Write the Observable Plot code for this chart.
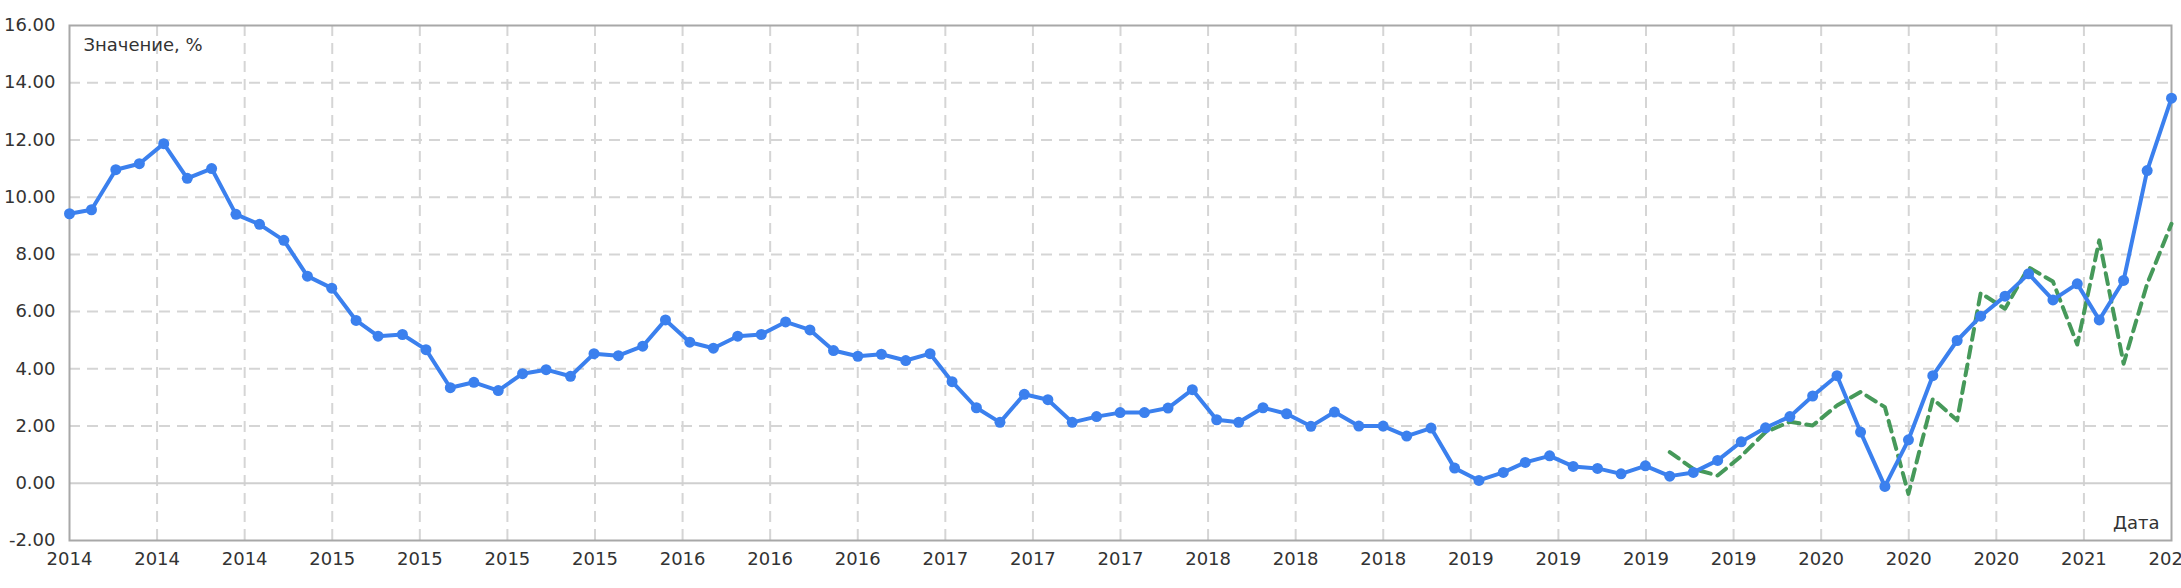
<!DOCTYPE html>
<html><head><meta charset="utf-8">
<script src="https://cdn.jsdelivr.net/npm/d3@7"></script>
<script src="https://cdn.jsdelivr.net/npm/@observablehq/plot@0.6"></script>
<style>
html,body{margin:0;padding:0;background:#fff;overflow:hidden;}
#chart svg{overflow:hidden;display:block;}
</style></head><body><div id="chart"></div>
<script>
// Monthly observations
const months = [
  "2014-02","2014-03","2014-04","2014-05","2014-06","2014-07","2014-08","2014-09","2014-10","2014-11","2014-12",
  "2015-01","2015-02","2015-03","2015-04","2015-05","2015-06","2015-07","2015-08","2015-09","2015-10","2015-11","2015-12",
  "2016-01","2016-02","2016-03","2016-04","2016-05","2016-06","2016-07","2016-08","2016-09","2016-10","2016-11","2016-12",
  "2017-01","2017-02","2017-03","2017-04","2017-05","2017-06","2017-07","2017-08","2017-09","2017-10","2017-11","2017-12",
  "2018-01","2018-02","2018-03","2018-04","2018-05","2018-06","2018-07","2018-08","2018-09","2018-10","2018-11","2018-12",
  "2019-01","2019-02","2019-03","2019-04","2019-05","2019-06","2019-07","2019-08","2019-09","2019-10","2019-11","2019-12",
  "2020-01","2020-02","2020-03","2020-04","2020-05","2020-06","2020-07","2020-08","2020-09","2020-10","2020-11","2020-12",
  "2021-01","2021-02","2021-03","2021-04","2021-05","2021-06"
];
const values = [
  9.42,9.56,10.96,11.17,11.87,10.66,11.00,9.40,9.05,8.49,7.24,
  6.82,5.69,5.14,5.20,4.67,3.34,3.53,3.24,3.83,3.97,3.74,4.53,
  4.46,4.79,5.71,4.93,4.72,5.14,5.20,5.64,5.36,4.64,4.44,4.51,
  4.29,4.53,3.55,2.64,2.13,3.11,2.92,2.13,2.33,2.47,2.47,2.63,
  3.27,2.22,2.13,2.64,2.43,1.99,2.49,2.00,2.00,1.65,1.93,0.53,
  0.10,0.38,0.73,0.96,0.59,0.52,0.33,0.61,0.25,0.38,0.80,1.45,
  1.94,2.33,3.05,3.76,1.79,-0.11,1.52,3.76,4.99,5.84,6.54,7.32,
  6.41,6.97,5.71,7.09,10.93,13.46
];
// Second (dashed) series, starting at forecastStart
const forecastStart = "2019-09";
const forecastValues = [
  1.09,0.50,0.27,0.95,1.79,2.15,2.02,2.72,3.19,2.66,-0.37,2.95,2.20,
  6.65,6.10,7.55,7.05,4.85,8.49,4.18,6.97,9.07
];
const xTickLabels = [
  "2014","2014","2014","2015","2015","2015","2015","2016","2016","2016",
  "2017","2017","2017","2018","2018","2018","2019","2019","2019","2019",
  "2020","2020","2020","2021","2021"
];
const yTicks = [-2,0,2,4,6,8,10,12,14,16];
const yGrid = [2,4,6,8,10,12,14];
const yLabel = "Значение, %";
const xLabel = "Дата";

const parse = d3.utcParse("%Y-%m");
const main = months.map((m,i) => ({date: parse(m), value: values[i]}));
const fStart = months.indexOf(forecastStart);
const forecast = forecastValues.map((v,i) => ({date: parse(months[fStart+i]), value: v}));

const t0 = main[0].date, t1 = main[main.length-1].date;
const n = xTickLabels.length - 1;
const xTicks = xTickLabels.map((_,k) => new Date(+t0 + k*(t1 - t0)/n));
const labelMap = new Map(xTicks.map((d,k) => [+d, xTickLabels[k]]));

const gridColor = "#d5d5d5";
const chart = Plot.plot({
  width: 2181, height: 588,
  marginLeft: 69, marginRight: 10, marginTop: 25, marginBottom: 48,
  x: {type: "utc", domain: [t0, t1]},
  y: {domain: [-2, 16]},
  style: {fontFamily: "'DejaVu Sans', Verdana, sans-serif", fontSize: "18px", color: "#333", background: "#fff"},
  marks: [
    Plot.gridX(xTicks.slice(1, -1), {stroke: gridColor, strokeOpacity: 1, strokeWidth: 2, strokeDasharray: "11,7"}),
    Plot.gridY(yGrid, {stroke: gridColor, strokeOpacity: 1, strokeWidth: 2, strokeDasharray: "11,7"}),
    Plot.ruleY([0], {stroke: "#cfcfcf", strokeWidth: 2}),
    Plot.frame({stroke: "#a8a8a8", strokeWidth: 2}),
    Plot.axisX(xTicks, {tickFormat: d => labelMap.get(+d), tickSize: 0, tickPadding: 12, label: null, fill: "#333"}),
    Plot.axisY(yTicks, {tickFormat: d => d.toFixed(2), tickSize: 0, tickPadding: 14, label: null, fill: "#333"}),
    Plot.line(forecast, {x: "date", y: "value", stroke: "#46995a", strokeWidth: 4, strokeDasharray: "11,7"}),
    Plot.line(main, {x: "date", y: "value", stroke: "#3b80ee", strokeWidth: 4}),
    Plot.dot(main, {x: "date", y: "value", r: 5.5, fill: "#3b80ee"}),
    Plot.text([yLabel], {text: d => d, frameAnchor: "top-left", dx: 14, dy: 20, textAnchor: "start", lineAnchor: "middle", fill: "#333"}),
    Plot.text([xLabel], {text: d => d, frameAnchor: "bottom-right", dx: -12, dy: -17, textAnchor: "end", lineAnchor: "middle", fill: "#333"})
  ]
});
document.getElementById("chart").appendChild(chart);
</script>
</body></html>
